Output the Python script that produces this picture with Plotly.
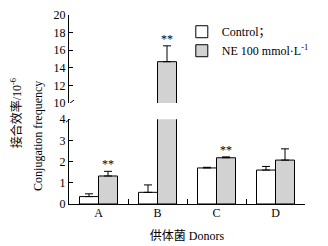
import plotly.graph_objects as go

donors = ["A", "B", "C", "D"]
control = [0.35, 0.55, 1.70, 1.60]
control_err = [0.13, 0.35, 0.03, 0.17]
ne = [1.32, 14.7, 2.18, 2.07]
ne_err = [0.22, 1.8, 0.04, 0.53]
sig = ["**", "**", "**", ""]

legend_names = ["Control；", "NE 100 mmol·L<sup>-1</sup>"]
y_title_cn = "接合效率/10<sup>-6</sup>"
y_title_en = "Conjugation frequency"
x_title = "供体菌 Donors"

SERIF = "'Liberation Serif', 'Noto Sans CJK SC', serif"
GRAY = "#d2d2d2"

fig = go.Figure()

def add_bars(yaxis, xaxis, show):
    fig.add_trace(go.Bar(
        x=donors, y=control, name=legend_names[0], showlegend=show,
        marker=dict(color="white", line=dict(color="black", width=1)),
        error_y=dict(type="data", symmetric=False, array=control_err,
                     arrayminus=[0] * 4, color="black", thickness=1, width=4),
        xaxis=xaxis, yaxis=yaxis))
    fig.add_trace(go.Bar(
        x=donors, y=ne, name=legend_names[1], showlegend=show,
        marker=dict(color=GRAY, line=dict(color="black", width=1)),
        error_y=dict(type="data", symmetric=False, array=ne_err,
                     arrayminus=[0] * 4, color="black", thickness=1, width=4),
        xaxis=xaxis, yaxis=yaxis))

add_bars("y", "x", True)
add_bars("y2", "x2", False)

lower_dom = [0, 0.449]
upper_dom = [0.534, 1]

axis_font = dict(family=SERIF, size=12, color="black")

fig.update_layout(
    template="none",
    width=328, height=246,
    margin=dict(l=69, r=23, t=15, b=42, autoexpand=False),
    paper_bgcolor="white", plot_bgcolor="white",
    barmode="group", bargap=0.356, bargroupgap=0,
    font=dict(family=SERIF, size=12, color="black"),
    xaxis=dict(domain=[0, 1], anchor="y", type="category", tickson="boundaries",
               automargin=False,
               showline=True, linecolor="black", linewidth=1,
               ticks="inside", ticklen=5, tickcolor="black", tickwidth=1,
               tickfont=axis_font, showgrid=False, zeroline=False,
               ticklabelstandoff=-2,
               range=[-0.5, 3.5],
               title=dict(text=x_title, font=dict(family=SERIF, size=12), standoff=12)),
    xaxis2=dict(domain=[0, 1], anchor="y2", matches="x", visible=False,
                automargin=False, showticklabels=False, ticks=""),
    yaxis=dict(domain=lower_dom, anchor="x", range=[0, 4], dtick=1, tick0=0,
               automargin=False,
               showline=True, linecolor="black", linewidth=1,
               ticks="inside", ticklen=4, tickcolor="black", tickwidth=1,
               tickfont=axis_font, showgrid=False, zeroline=False),
    yaxis2=dict(domain=upper_dom, anchor="x2", range=[10, 20], dtick=2, tick0=10,
                automargin=False,
                showline=True, linecolor="black", linewidth=1,
                ticks="inside", ticklen=4, tickcolor="black", tickwidth=1,
                tickfont=axis_font, showgrid=False, zeroline=False),
    legend=dict(x=0.478, y=0.93, xanchor="left", yanchor="top", yref="container",
                bgcolor="rgba(0,0,0,0)", font=dict(family=SERIF, size=12),
                itemwidth=30, tracegroupgap=2),
)

# axis break marks
for yref, yv in [("y", 4), ("y2", 10)]:
    fig.add_shape(type="line", xref="paper", yref=yref,
                  xsizemode="pixel", xanchor=0, x0=-3, x1=5,
                  ysizemode="pixel", yanchor=yv, y0=-3, y1=3,
                  line=dict(color="black", width=1))

# significance stars
for i, s in enumerate(sig):
    if not s:
        continue
    top = ne[i] + ne_err[i]
    yref = "y2" if top > 4 else "y"
    fig.add_annotation(x=i + 0.161, y=top, xref="x", yref=yref, text=s,
                       showarrow=False, yanchor="bottom", yshift=-2,
                       font=dict(family=SERIF, size=12, color="black"))

# y axis titles (two lines)
fig.add_annotation(x=0, y=0.48, xref="paper", yref="paper", xshift=-53,
                   xanchor="center", yanchor="middle",
                   text=y_title_cn, textangle=-90, showarrow=False,
                   font=dict(family=SERIF, size=12, color="black"))
fig.add_annotation(x=0, y=0.36, xref="paper", yref="paper", xshift=-31,
                   xanchor="center", yanchor="middle",
                   text=y_title_en, textangle=-90, showarrow=False,
                   font=dict(family=SERIF, size=12, color="black"))

fig.write_html("out.html", config={"displayModeBar": False},
               post_script="document.body.style.margin='0';document.body.style.padding='0';")
